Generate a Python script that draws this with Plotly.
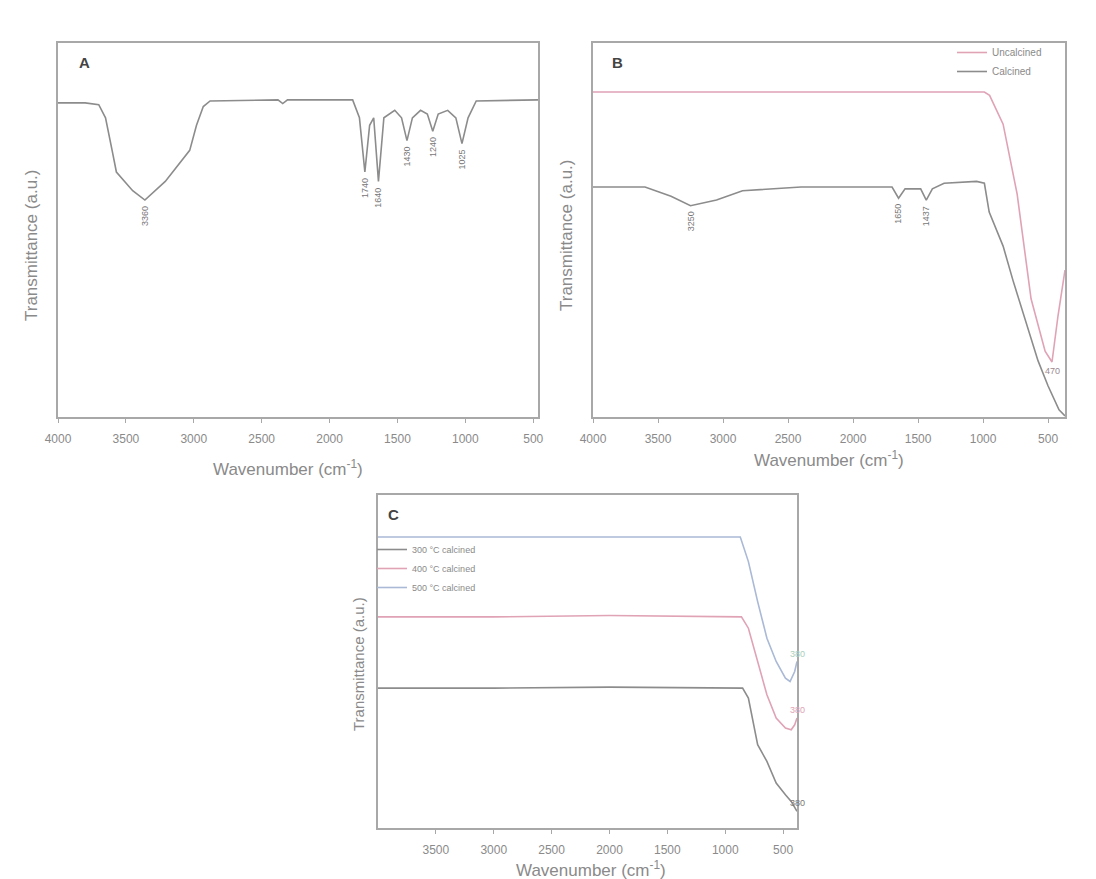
import plotly.graph_objects as go

W, H = 1096, 879
OFF = 8  # browser body margin offset in the page

# ---------------- data ----------------
A_wn = [4000, 3800, 3700, 3650, 3600, 3570, 3450, 3360, 3210, 3080, 3030, 2980, 2930, 2880,
        2500, 2380, 2345, 2310, 1830, 1780, 1740, 1705, 1675, 1640, 1600, 1520, 1470, 1430,
        1390, 1330, 1280, 1240, 1200, 1130, 1070, 1025, 980, 920, 465]
A_T = [84, 84, 83.5, 80, 71, 65.5, 60.5, 58, 63, 68.8, 71.3, 78, 83, 84.5,
       84.8, 84.8, 83.8, 84.8, 84.8, 80, 65.5, 78, 80, 63, 80, 82, 80, 73.9,
       80, 82, 81, 76.4, 81, 82, 80, 73.1, 80, 84.5, 84.8]
A_peaks = [3360, 1740, 1640, 1430, 1240, 1025]
A_peak_T = [58, 65.5, 63, 73.9, 76.4, 73.1]
A_peak_labels = ["3360", "1740", "1640", "1430", "1240", "1025"]

B_wn_1 = [4000, 2000, 990, 950, 846, 738, 631, 523, 470, 424, 370]
B_T_1 = [86.9, 86.9, 86.9, 86, 78.3, 59.6, 31.6, 17.6, 14.7, 27, 39.3]
B_wn_2 = [4000, 3600, 3400, 3250, 3050, 2850, 2400, 1700, 1650, 1600, 1480, 1437, 1390,
          1300, 1050, 990, 953, 846, 769, 685, 577, 500, 416, 370]
B_T_2 = [61.5, 61.5, 59, 56.5, 58, 60.5, 61.5, 61.5, 58.5, 61, 61, 58, 61,
         62.5, 63, 62.5, 54.8, 45.7, 36.4, 27, 15, 8.3, 1.9, 0.3]
B_peaks = [3250, 1650, 1437]
B_peak_T = [56.5, 58.5, 58]
B_peak_labels = ["3250", "1650", "1437"]
B_names = ["Uncalcined", "Calcined"]

C_wn_1 = [4000, 3000, 2000, 850, 800, 720, 640, 560, 480, 430, 380]
C_T_1 = [42, 42, 42.3, 42, 39, 25, 20, 13.5, 10, 8, 5]
C_wn_2 = [4000, 3000, 2000, 860, 800, 720, 640, 560, 480, 430, 400, 380]
C_T_2 = [63.4, 63.4, 63.8, 63.4, 60, 50, 40, 33, 30, 29.5, 31, 33]
C_wn_3 = [4000, 3000, 2000, 870, 800, 720, 640, 560, 480, 440, 400, 380]
C_T_3 = [87.4, 87.4, 87.6, 87.4, 80, 68, 57, 50, 45, 44, 47, 50]
C_names = ["300 °C calcined", "400 °C calcined", "500 °C calcined"]

ticks_AB = [4000, 3500, 3000, 2500, 2000, 1500, 1000, 500]
ticks_C = [3500, 3000, 2500, 2000, 1500, 1000, 500]

# ---------------- styling ----------------
FONT = "Arial, Liberation Sans, sans-serif"
FRAME = "#a8a8a8"
TXT = "#8a8a8a"
BLACK = "#8c8c8c"
RED = "#e0a3b6"
BLUE = "#aab9d6"


def px_x(p):
    return (p - OFF) / W


def px_y(p):
    return 1 - (p - OFF) / H


fig = go.Figure()

fig.add_trace(go.Scatter(x=A_wn, y=A_T, mode="lines", line=dict(color=BLACK, width=1.6),
                         xaxis="x", yaxis="y", showlegend=False))
fig.add_trace(go.Scatter(x=B_wn_1, y=B_T_1, mode="lines", line=dict(color=RED, width=1.6),
                         xaxis="x2", yaxis="y2", name=B_names[0], legend="legend"))
fig.add_trace(go.Scatter(x=B_wn_2, y=B_T_2, mode="lines", line=dict(color=BLACK, width=1.6),
                         xaxis="x2", yaxis="y2", name=B_names[1], legend="legend"))
fig.add_trace(go.Scatter(x=C_wn_1, y=C_T_1, mode="lines", line=dict(color=BLACK, width=1.6),
                         xaxis="x3", yaxis="y3", name=C_names[0], legend="legend2"))
fig.add_trace(go.Scatter(x=C_wn_2, y=C_T_2, mode="lines", line=dict(color=RED, width=1.6),
                         xaxis="x3", yaxis="y3", name=C_names[1], legend="legend2"))
fig.add_trace(go.Scatter(x=C_wn_3, y=C_T_3, mode="lines", line=dict(color=BLUE, width=1.6),
                         xaxis="x3", yaxis="y3", name=C_names[2], legend="legend2"))


def xax(domain, rng, tickvals, anchor):
    return dict(domain=domain, range=rng, tickvals=tickvals, anchor=anchor,
                showline=True, mirror=True, linecolor=FRAME, linewidth=2,
                ticks="outside", ticklen=4, tickcolor=FRAME, tickwidth=1,
                ticklabelstandoff=6, showgrid=False, zeroline=False, automargin=False,
                tickfont=dict(family=FONT, size=12, color=TXT))


def yax(domain, anchor):
    return dict(domain=domain, range=[0, 100], anchor=anchor,
                showline=True, mirror=True, linecolor=FRAME, linewidth=2, automargin=False,
                ticks="", showticklabels=False, showgrid=False, zeroline=False)


dA_x = [px_x(58), px_x(538)]
dB_x = [px_x(593), px_x(1065)]
dC_x = [px_x(378), px_x(797)]
dAB_y = [px_y(417), px_y(43)]
dC_y = [px_y(828), px_y(495)]

fig.update_layout(
    width=W, height=H,
    margin=dict(l=0, r=0, t=0, b=0, autoexpand=False),
    paper_bgcolor="white", plot_bgcolor="white",
    font=dict(family=FONT, color=TXT),
    xaxis=xax(dA_x, [4000, 465], ticks_AB, "y"),
    yaxis=yax(dAB_y, "x"),
    xaxis2=xax(dB_x, [4000, 370], ticks_AB, "y2"),
    yaxis2=yax(dAB_y, "x2"),
    xaxis3=xax(dC_x, [4000, 380], ticks_C, "y3"),
    yaxis3=yax(dC_y, "x3"),
    legend=dict(x=px_x(952), y=px_y(38), xanchor="left", yanchor="top",
                bgcolor="rgba(0,0,0,0)", itemwidth=30, tracegroupgap=0,
                font=dict(family=FONT, size=10, color=TXT)),
    legend2=dict(x=px_x(372), y=px_y(535), xanchor="left", yanchor="top",
                 bgcolor="rgba(0,0,0,0)", itemwidth=30, tracegroupgap=0,
                 font=dict(family=FONT, size=9, color=TXT)),
)

ann = []
# panel letters
for letter, (lx, ly) in {"A": (84, 62), "B": (617, 63), "C": (393, 514)}.items():
    ann.append(dict(text=f"<b>{letter}</b>", x=px_x(lx), y=px_y(ly), xref="paper", yref="paper",
                    showarrow=False, font=dict(family=FONT, size=15, color="#444"),
                    xanchor="center", yanchor="middle"))

# axis titles
xt = "Wavenumber (cm<sup>-1</sup>)"
yt = "Transmittance (a.u.)"
for (cx, cy) in [(288, 468), (829, 459), (591, 869)]:
    ann.append(dict(text=xt, x=px_x(cx), y=px_y(cy), xref="paper", yref="paper", showarrow=False,
                    font=dict(family=FONT, size=17, color=TXT), xanchor="center", yanchor="middle"))
for (cx, cy, fs) in [(32, 246, 17), (567, 236, 17), (358, 664, 15)]:
    ann.append(dict(text=yt, x=px_x(cx), y=px_y(cy), xref="paper", yref="paper", showarrow=False,
                    textangle=-90, font=dict(family=FONT, size=fs, color=TXT),
                    xanchor="center", yanchor="middle"))

# peak labels
for wn, t, lab in zip(A_peaks, A_peak_T, A_peak_labels):
    ann.append(dict(text=lab, x=wn, y=t, xref="x", yref="y", showarrow=False, textangle=-90,
                    font=dict(family=FONT, size=9, color="#777"),
                    xanchor="center", yanchor="top", yshift=-4))
for wn, t, lab in zip(B_peaks, B_peak_T, B_peak_labels):
    ann.append(dict(text=lab, x=wn, y=t, xref="x2", yref="y2", showarrow=False, textangle=-90,
                    font=dict(family=FONT, size=9, color="#777"),
                    xanchor="center", yanchor="top", yshift=-4))
ann.append(dict(text="470", x=B_wn_1[8], y=B_T_1[8], xref="x2", yref="y2", showarrow=False,
                font=dict(family=FONT, size=9, color="#9a8890"),
                xanchor="center", yanchor="top", yshift=-2))

# end labels in panel C
for wn, t, col in [(C_wn_3[-1], C_T_3[-1], "#a8d0c0"), (C_wn_2[-1], C_T_2[-1], "#e0a3b6"),
                   (C_wn_1[-1], C_T_1[-1], "#777")]:
    ann.append(dict(text=str(wn), x=wn, y=t, xref="x3", yref="y3", showarrow=False,
                    font=dict(family=FONT, size=9, color=col),
                    xanchor="center", yanchor="middle", yshift=8))

fig.update_layout(annotations=ann)

fig.write_html("out.html")
